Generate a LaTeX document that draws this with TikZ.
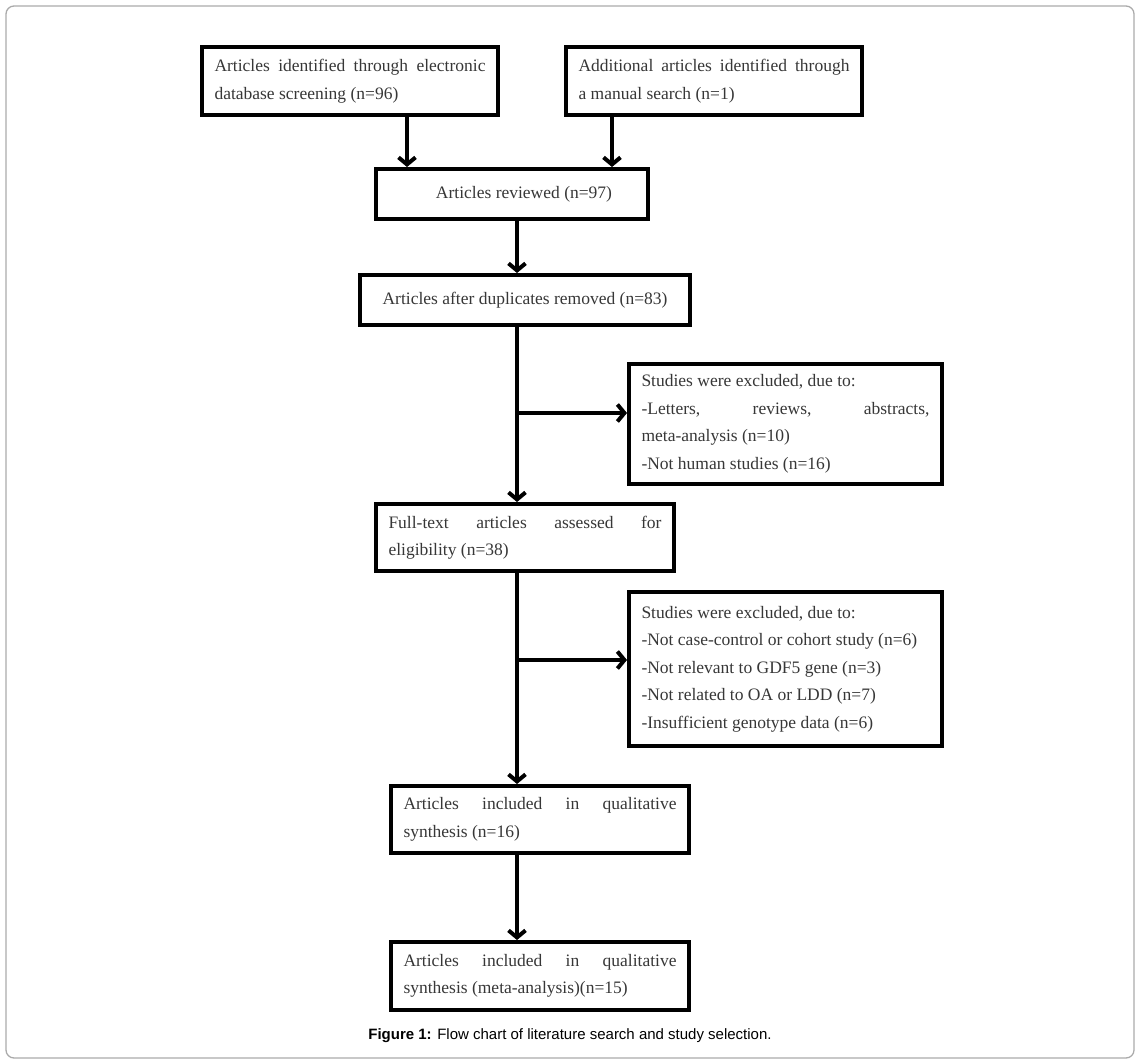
\documentclass[tikz,border=0pt]{standalone}
\usepackage{fontspec}
\setmainfont{Liberation Serif}
\newfontfamily\capfont{Liberation Sans}
\usetikzlibrary{arrows.meta}
\definecolor{txt}{RGB}{55,55,55}
\definecolor{framecol}{RGB}{170,170,170}
\hyphenpenalty=10000
\exhyphenpenalty=10000
\begin{document}
\begin{tikzpicture}[x=1pt,y=-1pt,
  box/.style={draw=black, line width=4pt, inner xsep=12.5pt, inner ysep=0pt,
    font=\fontsize{17.5}{27.5}\selectfont, text=txt, align=justify},
  cbox/.style={draw=black, line width=4pt, inner sep=0pt,
    font=\fontsize{17.5}{27.5}\selectfont, text=txt, align=center},
  arr/.style={line width=4pt, -{Straight Barb[length=7pt,width=17pt]}},
  frame/.style={draw=framecol, line width=1.3pt, rounded corners=8pt}]
\useasboundingbox (0,0) rectangle (1140,1064);
\draw[frame] (6,6) rectangle (1134,1058);

\node[box, text width=271pt, minimum height=68pt] (A) at (350,81)
  {Articles identified through electronic\linebreak database screening (n=96)};
\node[box, text width=271pt, minimum height=68pt] (B) at (714,81)
  {Additional articles identified through\linebreak a manual search (n=1)};
\node[cbox, minimum width=272pt, minimum height=50pt] (C) at (512,194)
  {\hspace*{24pt}Articles reviewed (n=97)\vphantom{p}\raisebox{0pt}[0pt][4pt]{}};
\node[cbox, minimum width=330pt, minimum height=50pt] (D) at (525,300)
  {Articles after duplicates removed (n=83)\raisebox{0pt}[0pt][4pt]{}};
\node[box, text width=288pt, minimum height=120pt] (E) at (785.5,424)
  {Studies were excluded, due to:\\-Letters, reviews, abstracts,\linebreak meta-analysis (n=10)\\-Not human studies (n=16)};
\node[box, text width=273pt, minimum height=67pt] (F) at (525,537.5)
  {Full-text articles assessed for\linebreak eligibility (n=38)};
\node[box, text width=288pt, minimum height=154pt] (G) at (785.5,669)
  {Studies were excluded, due to:\\-Not case-control or cohort study (n=6)\\-Not relevant to GDF5 gene (n=3)\\-Not related to OA or LDD (n=7)\\-Insufficient genotype data (n=6)};
\node[box, text width=273pt, minimum height=67pt] (H) at (540,819.5)
  {Articles included in qualitative\linebreak synthesis (n=16)};
\node[box, text width=273pt, minimum height=68pt] (I) at (540,976)
  {Articles included in qualitative\linebreak synthesis (meta-analysis)(n=15)};

\node[font=\capfont\fontsize{15}{17}\selectfont, text=black] (cap) at (570,1036)
  {\textbf{Figure 1:} Flow chart of literature search and study selection.};

\coordinate (ax) at (407,0);
\coordinate (bx) at (612,0);
\coordinate (sp) at (517,0);
\coordinate (b1) at (517,413);
\coordinate (b2) at (517,660);

\draw[arr] (A.south -| ax) -- (C.north -| ax);
\draw[arr] (B.south -| bx) -- (C.north -| bx);
\draw[arr] (C.south -| sp) -- (D.north -| sp);
\draw[arr] (D.south -| sp) -- (F.north -| sp);
\draw[arr] (b1) -- (b1 -| E.west);
\draw[arr] (F.south -| sp) -- (H.north -| sp);
\draw[arr] (b2) -- (b2 -| G.west);
\draw[arr] (H.south -| sp) -- (I.north -| sp);
\end{tikzpicture}
\end{document}
